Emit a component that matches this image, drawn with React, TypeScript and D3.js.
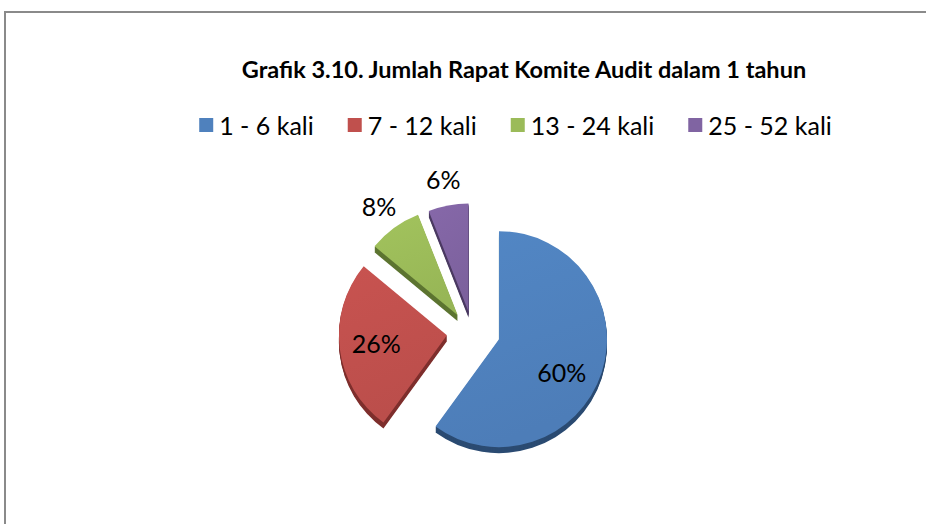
import React, { useEffect, useRef } from "react";
import * as d3 from "d3";

const title = "Grafik 3.10. Jumlah Rapat Komite Audit dalam 1 tahun";
const categories = ["1 - 6 kali", "7 - 12 kali", "13 - 24 kali", "25 - 52 kali"];
const values = [60, 26, 8, 6];
const labels = ["60%", "26%", "8%", "6%"];
const colors = ["#4F81BD", "#C0504D", "#9BBB59", "#8064A2"];
const sideColors = ["#2B4B72", "#7E2E2C", "#5C7430", "#4B3A62"];

export default function App() {
  const ref = useRef<SVGSVGElement>(null);

  useEffect(() => {
    const svg = d3.select(ref.current);
    svg.selectAll("*").remove();

    const width = 926;
    const height = 524;
    const font = "Lato, 'Open Sans', sans-serif";

    // chart frame (cut off at right/bottom like the screenshot)
    svg
      .append("rect")
      .attr("x", 5)
      .attr("y", 12)
      .attr("width", width)
      .attr("height", height)
      .attr("fill", "#fff")
      .attr("stroke", "#8a8a8a")
      .attr("stroke-width", 2);

    // title
    svg
      .append("text")
      .attr("x", 524)
      .attr("y", 78)
      .attr("text-anchor", "middle")
      .style("font-family", font)
      .style("font-weight", "bold")
      .style("font-size", "23.5px")
      .style("fill", "#000")
      .text(title);

    // legend, laid out from measured text widths
    const legend = svg.append("g");
    let lx = 0;
    categories.forEach((c, i) => {
      const item = legend.append("g").attr("transform", `translate(${lx},0)`);
      item
        .append("rect")
        .attr("x", 0)
        .attr("y", 118)
        .attr("width", 14)
        .attr("height", 14)
        .attr("fill", colors[i]);
      const t = item
        .append("text")
        .attr("x", 20)
        .attr("y", 135)
        .style("font-family", font)
        .style("font-size", "25px")
        .style("fill", "#000")
        .text(c);
      const w = (t.node() as SVGTextElement).getComputedTextLength();
      lx += 20 + w + 34;
    });
    const legendW = lx - 34;
    legend.attr("transform", `translate(${515.5 - legendW / 2},0)`);

    // exploded 3D-ish pie
    const cx = 473.5;
    const cy = 332.5;
    const r = 108;
    const explode = 26.8;
    const ky = 0.8;
    const depth = 6;

    const pie = d3
      .pie<number>()
      .sort(null)
      .value((d) => d);
    const arcs = pie(values);
    const arc = d3.arc<d3.PieArcDatum<number>>().innerRadius(0).outerRadius(r);

    const defs = svg.append("defs");
    colors.forEach((c, i) => {
      const g = defs
        .append("linearGradient")
        .attr("id", `face${i}`)
        .attr("x1", 0)
        .attr("y1", 0)
        .attr("x2", 0.3)
        .attr("y2", 1);
      g.append("stop").attr("offset", "0%").attr("stop-color", d3.color(c)!.brighter(0.12).formatHex());
      g.append("stop").attr("offset", "100%").attr("stop-color", d3.color(c)!.darker(0.08).formatHex());
    });

    const origin = (a: d3.PieArcDatum<number>) => {
      const mid = (a.startAngle + a.endAngle) / 2;
      return [cx + explode * Math.sin(mid), cy - explode * Math.cos(mid) * ky];
    };

    const sides = svg.append("g");
    arcs.forEach((a, i) => {
      const [ox, oy] = origin(a);
      for (let dy = depth; dy >= 1; dy--) {
        sides
          .append("path")
          .attr("d", arc(a))
          .attr("transform", `translate(${ox},${oy + dy})`)
          .attr("fill", sideColors[i]);
      }
    });

    const faces = svg.append("g");
    arcs.forEach((a, i) => {
      const [ox, oy] = origin(a);
      faces
        .append("path")
        .attr("d", arc(a))
        .attr("transform", `translate(${ox},${oy})`)
        .attr("fill", `url(#face${i})`);
    });

    // data labels: inside for big slices, outside for small ones
    const lbl = svg.append("g");
    arcs.forEach((a, i) => {
      const [ox, oy] = origin(a);
      const mid = (a.startAngle + a.endAngle) / 2;
      const inside = a.data >= 10;
      const lr = inside ? r * 0.66 : r + 26;
      // Excel nudges the big inside label a bit downward along the arc
      const la = inside && a.data > 50 ? mid + 0.18 : mid;
      lbl
        .append("text")
        .attr("x", ox + lr * Math.sin(la))
        .attr("y", oy - lr * Math.cos(la))
        .attr("dy", "0.36em")
        .attr("text-anchor", "middle")
        .style("font-family", font)
        .style("font-size", "25px")
        .style("fill", "#000")
        .text(labels[i]);
    });
  }, []);

  return (
    <svg
      ref={ref}
      width={926}
      height={524}
      style={{ position: "absolute", left: 0, top: 0, background: "#fff" }}
    />
  );
}
